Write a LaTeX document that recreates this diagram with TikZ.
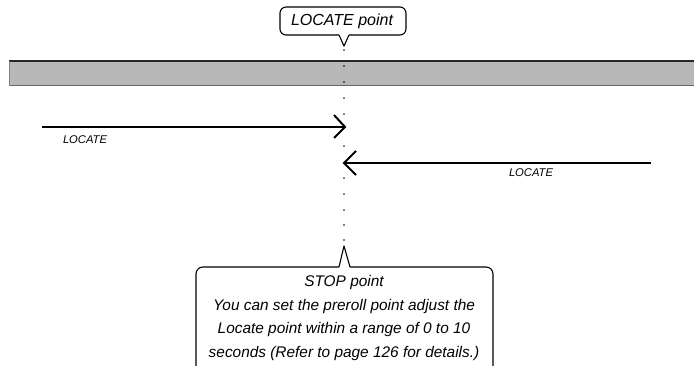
\documentclass[tikz,border=0pt]{standalone}
\usepackage{fontspec}
\setmainfont{Liberation Sans}
\begin{document}
\begin{tikzpicture}[x=1pt,y=-1pt,
  boxline/.style={draw=black,line width=1.1pt,line join=round},
  arrowline/.style={draw=black,line width=2pt},
  chevron/.style={draw=black,line width=2pt,line join=miter,line cap=butt},
  dotmark/.style={fill=black},
  bigtxt/.style={font=\fontsize{16}{19}\selectfont\itshape,inner sep=0pt},
  noteText/.style={font=\fontsize{15.4}{23.5}\selectfont\itshape,align=center,inner sep=0pt},
  smalltxt/.style={font=\fontsize{11.2}{13}\selectfont\itshape,inner sep=0pt}]
\useasboundingbox (0,0) rectangle (694,366);
\clip (0,0) rectangle (694,366);
\fill[white] (0,0) rectangle (694,366);

% gray band
\fill[black!28] (9,61) rectangle (694,86);
\draw[black!85,line width=1.3pt] (9,61) -- (694,61);
\draw[black!60,line width=1pt] (9,86) -- (694,86);
\draw[black!50,line width=0.6pt] (9,61) -- (9,86);

% dotted vertical line
\foreach \yy in {50,66,82,98,114,146,178,194,210,225,240}
  \fill[dotmark] (344,\yy) circle (0.95);

% top callout
\node[bigtxt] (loc) at (342,21) {LOCATE point};
\coordinate (loctip) at (344,46);
\draw[boxline,rounded corners=6pt] (339,35) -- (280,35) -- (280,7) -- (406,7) -- (406,35) -- (349,35);
\draw[boxline] (339,35) -- (loctip) -- (349,35);

% arrows
\coordinate (a1s) at (42,127);
\coordinate (a1e) at (345,127);
\draw[arrowline] (a1s) -- (a1e);
\draw[chevron] (334,115) -- (a1e) -- (334,138);
\node[smalltxt] (l1) at (85,140) {LOCATE};

\coordinate (a2s) at (651,163);
\coordinate (a2e) at (344,163);
\draw[arrowline] (a2s) -- (a2e);
\draw[chevron] (356,151) -- (a2e) -- (356,175);
\node[smalltxt] (l2) at (531,173) {LOCATE};

% bottom callout
\node[noteText] (stop) at (344,318) {STOP point\\You can set the preroll point adjust the\\Locate point within a range of 0 to 10\\seconds (Refer to page 126 for details.)};
\coordinate (stoptip) at (344,246);
\draw[boxline,rounded corners=7pt] (339,267) -- (196,267) -- (196,380);
\draw[boxline,rounded corners=7pt] (350,267) -- (493,267) -- (493,380);
\draw[boxline] (339,267) -- (stoptip) -- (350,267);
\end{tikzpicture}
\end{document}
